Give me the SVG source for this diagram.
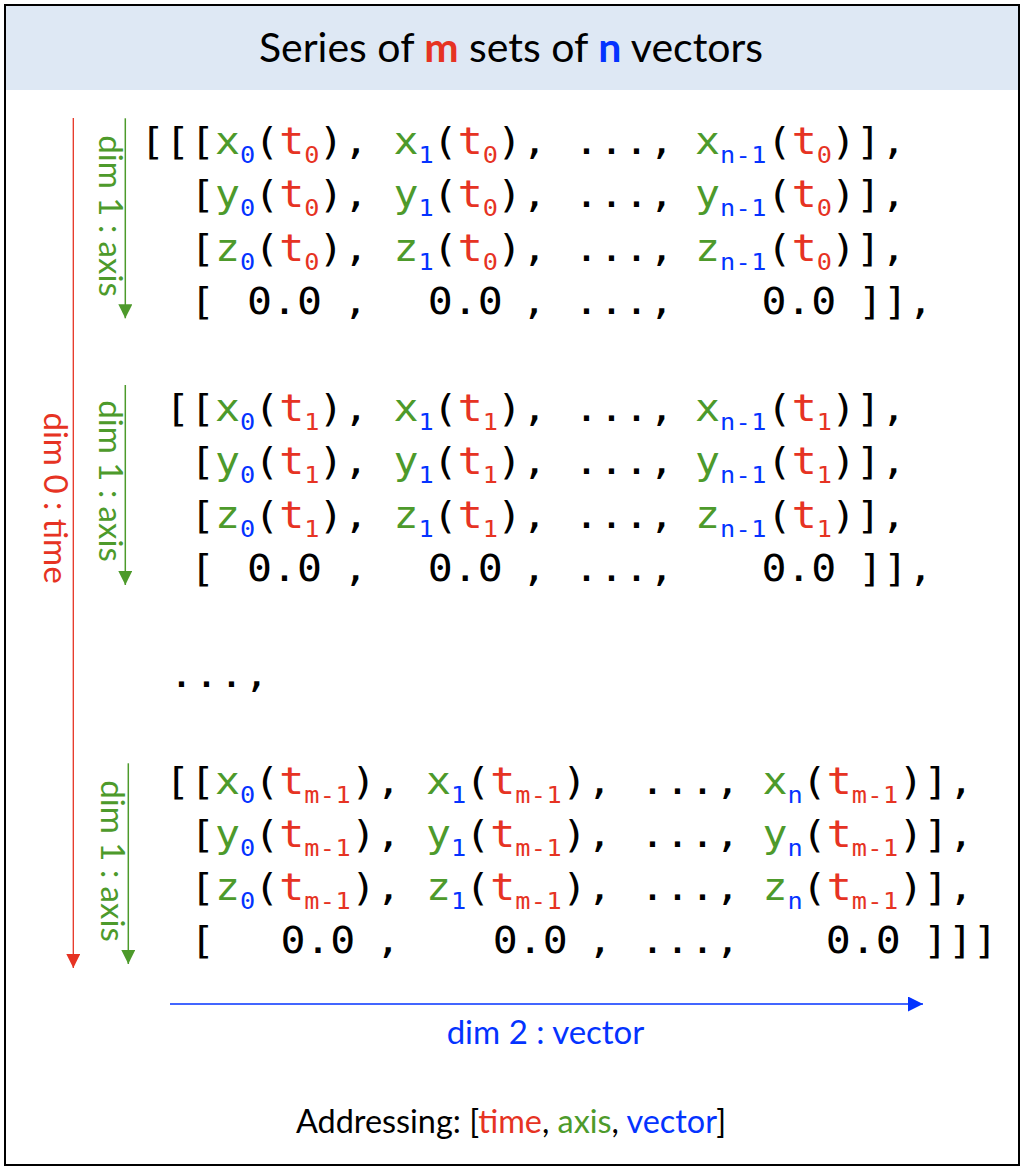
<svg xmlns="http://www.w3.org/2000/svg" width="1024" height="1168" viewBox="0 0 1024 1168">
<defs>
<style>
.m{font-family:"DejaVu Sans Mono",monospace;font-size:37.5px;fill:#000}
.s1{font-size:22.8px;letter-spacing:-0.81px}
.sm{font-size:22.8px;letter-spacing:0.36px}
.r{fill:#E63323}
.g{fill:#4D9A2B}
.b{fill:#0433FF}
.lbl{font-family:Lato,"Open Sans",sans-serif;font-size:33px}
.ttl{font-family:Lato,"Open Sans",sans-serif;font-size:41px;fill:#000}
.adr{font-family:Lato,"Open Sans",sans-serif;font-size:32.4px;fill:#000}
</style>
<marker id="ar" viewBox="0 0 14 14" refX="14" refY="7" markerWidth="14" markerHeight="14" markerUnits="userSpaceOnUse" orient="auto"><path d="M0,0 L14,7 L0,14 Z" fill="#E63323"/></marker>
<marker id="ag" viewBox="0 0 14 14" refX="14" refY="7" markerWidth="14" markerHeight="14" markerUnits="userSpaceOnUse" orient="auto"><path d="M0,0 L14,7 L0,14 Z" fill="#4D9A2B"/></marker>
<marker id="ab" viewBox="0 0 15 15" refX="15" refY="7.5" markerWidth="15" markerHeight="15" markerUnits="userSpaceOnUse" orient="auto"><path d="M0,0 L15,7.5 L0,15 Z" fill="#0433FF"/></marker>
</defs>
<rect x="0" y="0" width="1024" height="1168" fill="#fff"/>
<g id="frame">
<rect x="5" y="5" width="1014" height="85" fill="#DEE8F4"/>
<rect x="5" y="5" width="1014" height="1160" fill="none" stroke="#000" stroke-width="2"/>
</g>
<g id="title">
<text class="ttl" x="511" y="62" text-anchor="middle">Series of <tspan class="r" font-weight="bold">m</tspan> sets of <tspan class="b" font-weight="bold">n</tspan> vectors</text>
</g>
<g id="connectors">
<line x1="73.3" y1="118" x2="73.3" y2="968" stroke="#E63323" stroke-width="1.3" marker-end="url(#ar)"/>
<line x1="125.3" y1="118.3" x2="125.3" y2="318.3" stroke="#4D9A2B" stroke-width="1.5" marker-end="url(#ag)"/>
<line x1="125.3" y1="385" x2="125.3" y2="585" stroke="#4D9A2B" stroke-width="1.5" marker-end="url(#ag)"/>
<line x1="128.3" y1="763.3" x2="128.3" y2="964" stroke="#4D9A2B" stroke-width="1.5" marker-end="url(#ag)"/>
<line x1="170" y1="1004" x2="923" y2="1004" stroke="#0433FF" stroke-width="1.5" marker-end="url(#ab)"/>
</g>
<g id="axis-labels">
<text class="lbl r" transform="translate(43.5,498) rotate(90)" text-anchor="middle">dim 0 : time</text>
<text class="lbl g" transform="translate(99,216) rotate(90)" text-anchor="middle">dim 1 : axis</text>
<text class="lbl g" transform="translate(99,481) rotate(90)" text-anchor="middle">dim 1 : axis</text>
<text class="lbl g" transform="translate(101,861) rotate(90)" text-anchor="middle">dim 1 : axis</text>
<text class="lbl b" x="545.5" y="1044" text-anchor="middle">dim 2 : vector</text>
</g>
<g id="block-t0" transform="scale(1.107 1)">
<text class="m" xml:space="preserve" x="126.47" y="154">[[[<tspan class="g">x</tspan><tspan class="s1 b" dy="9">0</tspan><tspan dy="-9">(</tspan><tspan class="r">t</tspan><tspan class="s1 r" dy="9">0</tspan><tspan dy="-9">), </tspan><tspan class="g">x</tspan><tspan class="s1 b" dy="9">1</tspan><tspan dy="-9">(</tspan><tspan class="r">t</tspan><tspan class="s1 r" dy="9">0</tspan><tspan dy="-9">),</tspan><tspan x="518.52">...,</tspan><tspan x="627.82" class="g">x</tspan><tspan class="sm b" dy="9">n-1</tspan><tspan dy="-9">(</tspan><tspan class="r">t</tspan><tspan class="s1 r" dy="9">0</tspan><tspan dy="-9">)],</tspan></text>
<text class="m" xml:space="preserve" x="171.63" y="207.5">[<tspan class="g">y</tspan><tspan class="s1 b" dy="9">0</tspan><tspan dy="-9">(</tspan><tspan class="r">t</tspan><tspan class="s1 r" dy="9">0</tspan><tspan dy="-9">), </tspan><tspan class="g">y</tspan><tspan class="s1 b" dy="9">1</tspan><tspan dy="-9">(</tspan><tspan class="r">t</tspan><tspan class="s1 r" dy="9">0</tspan><tspan dy="-9">),</tspan><tspan x="518.52">...,</tspan><tspan x="627.82" class="g">y</tspan><tspan class="sm b" dy="9">n-1</tspan><tspan dy="-9">(</tspan><tspan class="r">t</tspan><tspan class="s1 r" dy="9">0</tspan><tspan dy="-9">)],</tspan></text>
<text class="m" xml:space="preserve" x="171.63" y="261">[<tspan class="g">z</tspan><tspan class="s1 b" dy="9">0</tspan><tspan dy="-9">(</tspan><tspan class="r">t</tspan><tspan class="s1 r" dy="9">0</tspan><tspan dy="-9">), </tspan><tspan class="g">z</tspan><tspan class="s1 b" dy="9">1</tspan><tspan dy="-9">(</tspan><tspan class="r">t</tspan><tspan class="s1 r" dy="9">0</tspan><tspan dy="-9">),</tspan><tspan x="518.52">...,</tspan><tspan x="627.82" class="g">z</tspan><tspan class="sm b" dy="9">n-1</tspan><tspan dy="-9">(</tspan><tspan class="r">t</tspan><tspan class="s1 r" dy="9">0</tspan><tspan dy="-9">)],</tspan></text>
<text class="m" xml:space="preserve" x="171.63" y="314.5">[<tspan x="223.13">0.0</tspan><tspan x="309.85">,</tspan><tspan x="386.36">0.0</tspan><tspan x="471.18">,</tspan><tspan x="518.52">...,</tspan><tspan x="687.8">0.0</tspan><tspan x="775.07">]],</tspan></text>
</g>
<g id="block-t1" transform="scale(1.107 1)">
<text class="m" xml:space="preserve" x="149.05" y="421">[[<tspan class="g">x</tspan><tspan class="s1 b" dy="9">0</tspan><tspan dy="-9">(</tspan><tspan class="r">t</tspan><tspan class="s1 r" dy="9">1</tspan><tspan dy="-9">), </tspan><tspan class="g">x</tspan><tspan class="s1 b" dy="9">1</tspan><tspan dy="-9">(</tspan><tspan class="r">t</tspan><tspan class="s1 r" dy="9">1</tspan><tspan dy="-9">),</tspan><tspan x="518.52">...,</tspan><tspan x="627.82" class="g">x</tspan><tspan class="sm b" dy="9">n-1</tspan><tspan dy="-9">(</tspan><tspan class="r">t</tspan><tspan class="s1 r" dy="9">1</tspan><tspan dy="-9">)],</tspan></text>
<text class="m" xml:space="preserve" x="171.63" y="474.5">[<tspan class="g">y</tspan><tspan class="s1 b" dy="9">0</tspan><tspan dy="-9">(</tspan><tspan class="r">t</tspan><tspan class="s1 r" dy="9">1</tspan><tspan dy="-9">), </tspan><tspan class="g">y</tspan><tspan class="s1 b" dy="9">1</tspan><tspan dy="-9">(</tspan><tspan class="r">t</tspan><tspan class="s1 r" dy="9">1</tspan><tspan dy="-9">),</tspan><tspan x="518.52">...,</tspan><tspan x="627.82" class="g">y</tspan><tspan class="sm b" dy="9">n-1</tspan><tspan dy="-9">(</tspan><tspan class="r">t</tspan><tspan class="s1 r" dy="9">1</tspan><tspan dy="-9">)],</tspan></text>
<text class="m" xml:space="preserve" x="171.63" y="528">[<tspan class="g">z</tspan><tspan class="s1 b" dy="9">0</tspan><tspan dy="-9">(</tspan><tspan class="r">t</tspan><tspan class="s1 r" dy="9">1</tspan><tspan dy="-9">), </tspan><tspan class="g">z</tspan><tspan class="s1 b" dy="9">1</tspan><tspan dy="-9">(</tspan><tspan class="r">t</tspan><tspan class="s1 r" dy="9">1</tspan><tspan dy="-9">),</tspan><tspan x="518.52">...,</tspan><tspan x="627.82" class="g">z</tspan><tspan class="sm b" dy="9">n-1</tspan><tspan dy="-9">(</tspan><tspan class="r">t</tspan><tspan class="s1 r" dy="9">1</tspan><tspan dy="-9">)],</tspan></text>
<text class="m" xml:space="preserve" x="171.63" y="581.5">[<tspan x="223.13">0.0</tspan><tspan x="309.85">,</tspan><tspan x="386.36">0.0</tspan><tspan x="471.18">,</tspan><tspan x="518.52">...,</tspan><tspan x="687.8">0.0</tspan><tspan x="775.07">]],</tspan></text>
</g>
<g id="ellipsis" transform="scale(1.107 1)">
<text class="m" x="152.67" y="687">...,</text>
</g>
<g id="block-tm1" transform="scale(1.107 1)">
<text class="m" xml:space="preserve" x="149.05" y="794">[[<tspan class="g">x</tspan><tspan class="s1 b" dy="9.5">0</tspan><tspan dy="-9.5">(</tspan><tspan class="r">t</tspan><tspan class="sm r" dy="9.5">m-1</tspan><tspan dy="-9.5">), </tspan><tspan class="g">x</tspan><tspan class="s1 b" dy="9.5">1</tspan><tspan dy="-9.5">(</tspan><tspan class="r">t</tspan><tspan class="sm r" dy="9.5">m-1</tspan><tspan dy="-9.5">),</tspan><tspan x="578.14">...,</tspan><tspan x="688.8" class="g">x</tspan><tspan class="s1 b" dy="9.5">n</tspan><tspan dy="-9.5">(</tspan><tspan class="r">t</tspan><tspan class="sm r" dy="9.5">m-1</tspan><tspan dy="-9.5">)],</tspan></text>
<text class="m" xml:space="preserve" x="171.63" y="847">[<tspan class="g">y</tspan><tspan class="s1 b" dy="9.5">0</tspan><tspan dy="-9.5">(</tspan><tspan class="r">t</tspan><tspan class="sm r" dy="9.5">m-1</tspan><tspan dy="-9.5">), </tspan><tspan class="g">y</tspan><tspan class="s1 b" dy="9.5">1</tspan><tspan dy="-9.5">(</tspan><tspan class="r">t</tspan><tspan class="sm r" dy="9.5">m-1</tspan><tspan dy="-9.5">),</tspan><tspan x="578.14">...,</tspan><tspan x="688.8" class="g">y</tspan><tspan class="s1 b" dy="9.5">n</tspan><tspan dy="-9.5">(</tspan><tspan class="r">t</tspan><tspan class="sm r" dy="9.5">m-1</tspan><tspan dy="-9.5">)],</tspan></text>
<text class="m" xml:space="preserve" x="171.63" y="900">[<tspan class="g">z</tspan><tspan class="s1 b" dy="9.5">0</tspan><tspan dy="-9.5">(</tspan><tspan class="r">t</tspan><tspan class="sm r" dy="9.5">m-1</tspan><tspan dy="-9.5">), </tspan><tspan class="g">z</tspan><tspan class="s1 b" dy="9.5">1</tspan><tspan dy="-9.5">(</tspan><tspan class="r">t</tspan><tspan class="sm r" dy="9.5">m-1</tspan><tspan dy="-9.5">),</tspan><tspan x="578.14">...,</tspan><tspan x="688.8" class="g">z</tspan><tspan class="s1 b" dy="9.5">n</tspan><tspan dy="-9.5">(</tspan><tspan class="r">t</tspan><tspan class="sm r" dy="9.5">m-1</tspan><tspan dy="-9.5">)],</tspan></text>
<text class="m" xml:space="preserve" x="171.63" y="953">[<tspan x="253.3">0.0</tspan><tspan x="339.21">,</tspan><tspan x="445.08">0.0</tspan><tspan x="530.71">,</tspan><tspan x="578.14">...,</tspan><tspan x="745.89">0.0</tspan><tspan x="833.69">]]]</tspan></text>
</g>
<g id="addressing">
<text class="adr" x="511" y="1132.7" text-anchor="middle">Addressing: [<tspan class="r">time</tspan>, <tspan class="g">axis</tspan>, <tspan class="b">vector</tspan>]</text>
</g>
</svg>
